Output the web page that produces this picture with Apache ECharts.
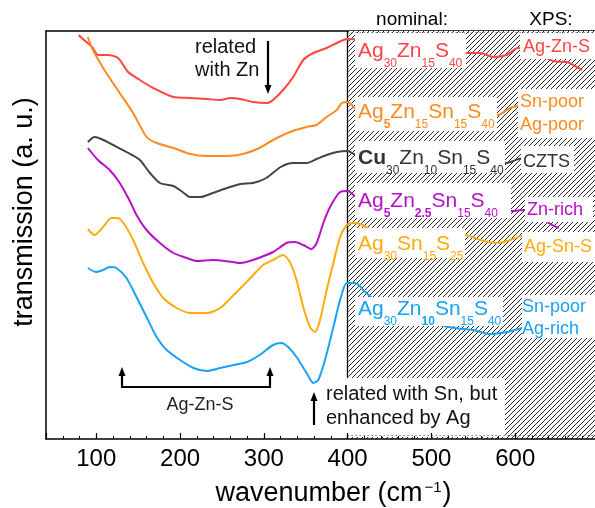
<!DOCTYPE html>
<html><head><meta charset="utf-8">
<script src="https://cdn.jsdelivr.net/npm/echarts@6/dist/echarts.min.js"></script>
<style>html,body{margin:0;padding:0;background:#fff}#c{width:595px;height:508px}</style>
</head><body><div id="c"></div>
<script>
const FONT = '"Liberation Sans", Arial, Helvetica, sans-serif';

// ---- data (wavenumber cm^-1, transmission a.u.) ----
const wnRed = [79, 84, 95, 102, 114, 126, 138, 152, 168, 192, 212, 232, 248, 260, 272, 287, 304, 311, 323, 335, 347, 359, 375, 387, 395, 400, 450, 500, 542, 558, 574, 590, 603, 625, 645, 662, 669, 680];
const tRed  = [404, 400, 392, 384, 384, 381, 367, 359, 351, 342, 341, 340, 339, 341, 340, 337, 336, 339, 349, 362, 379, 386, 391, 396, 399, 400, 397, 391, 386, 386, 382, 384, 391, 387, 378, 377, 374, 369];

const wnOrange = [90, 96, 112, 128, 144, 160, 172, 192, 212, 232, 256, 275, 295, 311, 331, 351, 363, 375, 387, 393, 399, 404, 410, 413, 450, 500, 540, 580, 594, 620, 660];
const tOrange  = [402, 389, 366, 346, 326, 302, 296, 291, 285, 283, 283, 285, 291, 299, 307, 312, 314, 322, 329, 336, 337, 335, 329, 324, 317, 315, 319, 324, 331, 336, 339];

const wnGray = [90, 98, 106, 120, 136, 152, 164, 176, 192, 203, 212, 224, 239, 256, 272, 287, 303, 320, 335, 351, 363, 375, 387, 400, 410, 450, 500, 550, 590, 604, 620, 640];
const tGray  = [297, 302, 300, 294, 287, 279, 266, 256, 253, 247, 242, 242, 246, 251, 255, 256, 261, 272, 276, 276, 280, 284, 287, 288, 284, 279, 274, 273, 276, 280, 282, 283];

const wnPurple = [90, 102, 116, 128, 140, 148, 160, 176, 192, 208, 220, 239, 263, 272, 287, 311, 327, 337, 347, 357, 363, 371, 379, 391, 400, 407, 411, 450, 500, 550, 596, 610, 625, 642, 652];
const tPurple  = [291, 279, 269, 256, 238, 224, 209, 196, 186, 181, 178, 179, 177, 176, 179, 187, 196, 197, 194, 190, 196, 216, 232, 247, 248, 244, 242, 237, 231, 228, 228, 229, 225, 215, 211];

const wnAmber = [90, 98, 108, 118, 126, 134, 144, 156, 168, 180, 196, 212, 232, 248, 264, 284, 299, 311, 323, 331, 339, 347, 355, 361, 367, 375, 383, 391, 399, 406, 418, 427, 440, 480, 520, 540, 558, 578, 594, 608, 630, 660];
const tAmber  = [210, 204, 212, 221, 221, 214, 199, 176, 156, 141, 131, 126, 126, 131, 144, 161, 174, 179, 184, 177, 159, 132, 112, 107, 119, 149, 176, 202, 214, 216, 214, 209, 201, 199, 201, 204, 199, 196, 199, 203, 199, 193];

const wnBlue = [90, 100, 108, 116, 124, 136, 148, 160, 172, 184, 200, 216, 232, 248, 264, 280, 295, 311, 321, 329, 339, 351, 359, 365, 373, 383, 391, 399, 409, 421, 440, 480, 510, 528, 550, 570, 590, 608, 630, 660];
const tBlue  = [171, 167, 169, 172, 171, 161, 142, 122, 102, 89, 79, 71, 68, 71, 74, 77, 84, 94, 96, 92, 82, 66, 56, 59, 79, 112, 139, 156, 156, 147, 134, 121, 114, 111, 109, 105, 107, 111, 117, 124];

const boundary = 400;     // FTIR / XPS divider
const xMin = 40, xMax = 700, yMin = 0, yMax = 408;

const C = {red:'#ff4444', orange:'#ff8a1f', gray:'#444444', purple:'#b710c8', amber:'#ffab0a', blue:'#17a3f5'};

function mk(name, wn, t, color) {
  return {type:'line', name, data: wn.map((w,i)=>[w,t[i]]), showSymbol:false, smooth:0.25,
    lineStyle:{color, width:2}, itemStyle:{color}, z:10, silent:true};
}

const chart = echarts.init(document.getElementById('c'));
const series = [
  mk('Ag30Zn15S40', wnRed, tRed, C.red),
  mk('Ag5Zn15Sn15S40', wnOrange, tOrange, C.orange),
  mk('Cu30Zn10Sn15S40', wnGray, tGray, C.gray),
  mk('Ag5Zn2.5Sn15S40', wnPurple, tPurple, C.purple),
  mk('Ag30Sn15S25', wnAmber, tAmber, C.amber),
  mk('Ag30Zn10Sn15S40', wnBlue, tBlue, C.blue)
];
series[0].markLine = {symbol:'none', silent:true, label:{show:false},
  lineStyle:{color:'#000', width:1.3, type:'solid'}, data:[{xAxis: boundary}]};

chart.setOption({
  animation:false,
  textStyle:{fontFamily:FONT},
  grid:{left:46, top:31, width:553, height:408, outerBoundsMode:'none', containLabel:false},
  xAxis:[{
    type:'value', min:xMin, max:xMax, splitNumber:7, position:'bottom', z:50,
    axisLine:{show:true, lineStyle:{color:'#000', width:1.5}},
    axisTick:{show:true, inside:true, length:6, lineStyle:{color:'#000', width:1.2}},
    minorTick:{show:true, splitNumber:5, length:3, lineStyle:{color:'#000', width:1}},
    splitLine:{show:false},
    axisLabel:{fontSize:24, color:'#000', margin:8, fontFamily:FONT, showMinLabel:false, showMaxLabel:false},
    name:'{n|wavenumber (cm}{sup|−1}{n|)}', nameLocation:'middle', nameGap:40,
    nameTextStyle:{fontSize:27, color:'#000', fontFamily:FONT, padding:[0,0,0,22],
      rich:{
        n:{fontSize:27, lineHeight:30, color:'#000', fontFamily:FONT},
        sup:{fontSize:15, lineHeight:15, padding:[0,1,12,2], color:'#000', fontFamily:FONT}
      }}
  },{
    type:'value', min:xMin, max:xMax, position:'top', z:0,
    axisLine:{show:true, onZero:false, lineStyle:{color:'#000', width:1.5}},
    axisTick:{show:false}, axisLabel:{show:false}, splitLine:{show:false}
  }],
  yAxis:{
    type:'value', min:yMin, max:yMax, z:50,
    axisLine:{show:true, lineStyle:{color:'#000', width:1.5}},
    axisTick:{show:false}, axisLabel:{show:false}, splitLine:{show:false},
    name:'transmission (a. u.)', nameLocation:'middle', nameGap:8, nameRotate:90,
    nameTextStyle:{fontSize:27, color:'#000', fontFamily:FONT, padding:[0,0,0,46]}
  },
  series
});

// ---- overlay: hatched XPS panel, label boxes, annotations ----
const p0 = chart.convertToPixel({gridIndex:0}, [boundary, yMax]);
const p1 = chart.convertToPixel({gridIndex:0}, [xMax, yMin]);

const hc = document.createElement('canvas'); hc.width = 5; hc.height = 5;
const g = hc.getContext('2d');
g.fillStyle = '#fff'; g.fillRect(0,0,5,5);
g.strokeStyle = '#2a2a2a'; g.lineWidth = 1;
g.beginPath();
g.moveTo(-1,6); g.lineTo(6,-1);
g.moveTo(-1,1); g.lineTo(1,-1);
g.moveTo(4,6); g.lineTo(6,4);
g.stroke();

const els = [];
els.push({type:'rect', z:1, silent:true, shape:{x:p0[0]+0.8, y:p0[1], width:p1[0]-p0[0], height:p1[1]-p0[1]},
  style:{fill:{image:hc, repeat:'repeat'}}});

const boxes = [
  [355,33,111,35],[520,33,75,26],
  [355,97,142,34],[518,89,77,49],
  [355,141,150,32],[521,146,53,27],
  [355,183,156,35],[525,197,68,25],
  [355,228,110,30],[522,232,73,30],
  [355,297,148,29],[522,295,73,43],
  [320,378,185,59]
];
boxes.forEach(b => els.push({type:'rect', z:20, silent:true, shape:{x:b[0], y:b[1], width:b[2], height:b[3]}, style:{fill:'#fff'}}));

// dotted frame of the right panel
els.push({type:'line', z:25, silent:true, shape:{x1:p0[0], y1:p0[1]+1.5, x2:p1[0], y2:p0[1]+1.5}, style:{stroke:'#444', lineWidth:1, lineDash:[1,3]}});
els.push({type:'line', z:25, silent:true, shape:{x1:p0[0], y1:p1[1]-3.5, x2:p1[0], y2:p1[1]-3.5}, style:{stroke:'#444', lineWidth:1, lineDash:[1,3]}});

function rich(color) {
  return {
    m:{fontSize:21, lineHeight:24, verticalAlign:'top', fill:color, fontFamily:FONT},
    mb:{fontSize:21, lineHeight:24, verticalAlign:'top', fill:color, fontFamily:FONT, fontWeight:'bold'},
    s:{fontSize:12, lineHeight:12, verticalAlign:'top', padding:[17,0,0,0], fill:color, fontFamily:FONT},
    sb:{fontSize:12, lineHeight:12, verticalAlign:'top', padding:[17,0,0,0], fill:color, fontFamily:FONT, fontWeight:'bold'}
  };
}
const nominal = [
  ['{m|Ag}{s|30}{m|Zn}{s|15}{m|S}{s|40}', C.red, 50],
  ['{m|Ag}{sb|5}{m|Zn}{s|15}{m|Sn}{s|15}{m|S}{s|40}', C.orange, 111],
  ['{mb|Cu}{s|30}{m|Zn}{s|10}{m|Sn}{s|15}{m|S}{s|40}', '#333', 157],
  ['{m|Ag}{sb|5}{m|Zn}{sb|2.5}{m|Sn}{s|15}{m|S}{s|40}', C.purple, 200],
  ['{m|Ag}{s|30}{m|Sn}{s|15}{m|S}{s|25}', C.amber, 243],
  ['{m|Ag}{s|30}{m|Zn}{sb|10}{m|Sn}{s|15}{m|S}{s|40}', C.blue, 308]
];
nominal.forEach(n => els.push({type:'text', z:30, silent:true,
  style:{x:358, y:n[2]-9, text:n[0], rich:rich(n[1]), align:'left', verticalAlign:'top', fill:n[1]}}));

function txt(text, x, y, color, size, align) {
  els.push({type:'text', z:30, silent:true, style:{x, y, text, fill:color, fontSize:size, fontFamily:FONT,
    align:align||'left', verticalAlign:'middle'}});
}
txt('nominal:', 412, 20, '#000', 19, 'center');
txt('XPS:', 551, 20, '#000', 19, 'center');
txt('Ag-Zn-S', 523, 47, C.red, 18);
txt('Sn-poor', 520, 102, C.orange, 18);
txt('Ag-poor', 520, 125, C.orange, 18);
txt('CZTS', 523, 162, '#333', 18);
txt('Zn-rich', 527, 210, C.purple, 18);
txt('Ag-Sn-S', 524, 247, C.amber, 18);
txt('Sn-poor', 522, 307, C.blue, 18);
txt('Ag-rich', 522, 329, C.blue, 18);
txt('related', 195, 47, '#111', 20);
txt('with Zn', 195, 70, '#111', 20);
txt('related with Sn, but', 326, 394, '#111', 20);
txt('enhanced by Ag', 326, 418, '#111', 20);
txt('Ag-Zn-S', 200, 405, '#222', 18, 'center');

function arrow(x, yFrom, yTip) {
  const dir = yTip > yFrom ? 1 : -1;
  els.push({type:'line', z:30, silent:true, shape:{x1:x, y1:yFrom, x2:x, y2:yTip - dir*7}, style:{stroke:'#000', lineWidth:2.2}});
  els.push({type:'polygon', z:30, silent:true, shape:{points:[[x-3.5, yTip-dir*9],[x+3.5, yTip-dir*9],[x, yTip]]}, style:{fill:'#000'}});
}
arrow(268, 41, 94);
arrow(314, 425, 392);
arrow(122, 387, 367);
arrow(270, 387, 367);
els.push({type:'line', z:30, silent:true, shape:{x1:121, y1:387, x2:271, y2:387}, style:{stroke:'#000', lineWidth:2.2}});

chart.setOption({graphic:{elements:els}});
</script></body></html>
